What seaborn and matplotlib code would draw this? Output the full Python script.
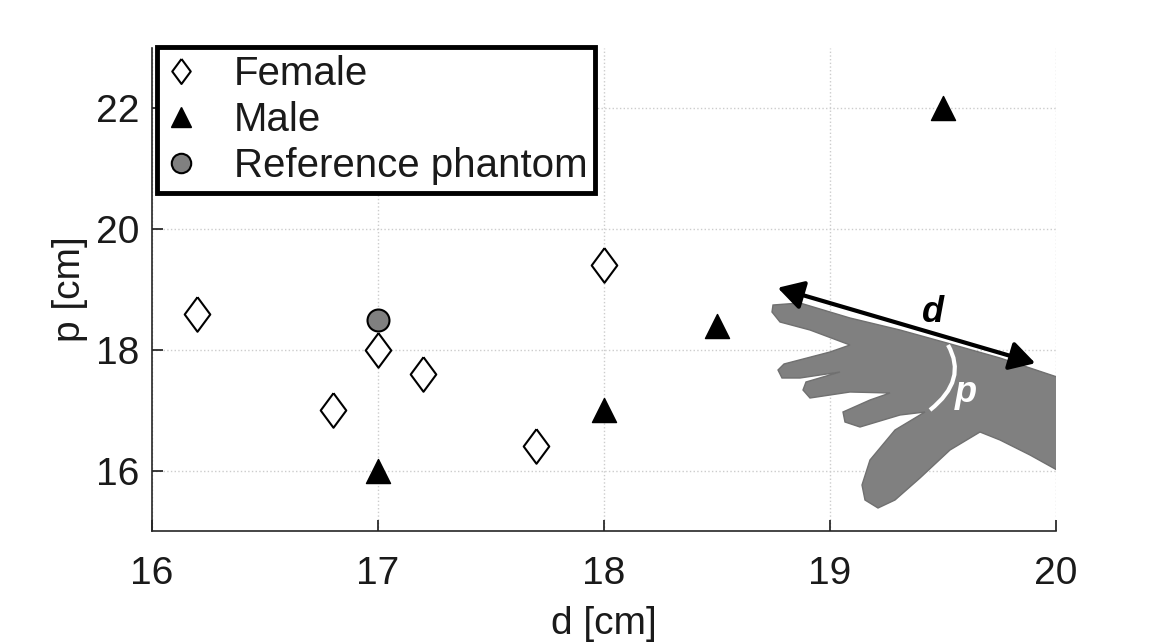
import matplotlib
matplotlib.use("Agg")
import matplotlib.pyplot as plt
import seaborn as sns
import pandas as pd
from matplotlib.patches import Polygon, FancyArrowPatch, PathPatch
from matplotlib.path import Path
from matplotlib.lines import Line2D

female_d = [16.2, 16.8, 17.0, 17.2, 17.7, 18.0]
female_p = [18.6, 17.0, 18.0, 17.6, 16.4, 19.4]
male_d = [17.0, 18.0, 18.5, 19.5]
male_p = [16.0, 17.0, 18.4, 22.0]
ref_d = [17.0]
ref_p = [18.5]
x_ticks = [16, 17, 18, 19, 20]
y_ticks = [16, 18, 20, 22]

sns.set_theme(style="white")
plt.rcParams['font.family'] = ['Liberation Sans', 'DejaVu Sans']

fig = plt.figure(figsize=(11.66, 6.44), dpi=100)
ax = fig.add_axes([152/1166, 1-531/644, 904/1166, 483/644])

def px(x, y):
    return ((x-152)/904, (531-y)/483)

# hand illustration (background)
hand_px = [(773,305),(800,303),(850,318),(900,330),(947,343),(1000,358),(1057,377),
           (1057,470),(1030,455),(1000,440),(980,432),(950,450),(920,478),(895,500),
           (878,508),(865,500),(862,485),(870,460),(895,430),(925,412),(900,415),
           (860,427),(845,422),(843,412),(870,400),(890,393),(850,392),(810,398),
           (803,390),(806,382),(840,372),(800,378),(782,378),(778,370),(784,364),
           (830,352),(850,345),(810,330),(780,322),(772,312)]
hand = Polygon([px(*p) for p in hand_px], closed=True, transform=ax.transAxes,
               facecolor='#808080', edgecolor='#707070', lw=1, zorder=1.5)
ax.add_patch(hand)
arc = Path([px(948,345), px(968,380), px(930,410)], [Path.MOVETO, Path.CURVE3, Path.CURVE3])
ax.add_patch(PathPatch(arc, transform=ax.transAxes, facecolor='none', edgecolor='white',
                       lw=3, zorder=1.6))
arrow = FancyArrowPatch(px(775,287), px(1038,364), transform=ax.transAxes,
                        arrowstyle='<|-|>,head_length=0.7,head_width=0.4',
                        mutation_scale=22, color='black', lw=3, zorder=1.7)
ax.add_patch(arrow)
ax.text(*px(933,312), 'd', transform=ax.transAxes, fontsize=26, fontweight='bold',
        fontstyle='italic', ha='center', va='center', color='black', zorder=1.8,
        family=['Liberation Sans'])
ax.text(*px(966,392), 'p', transform=ax.transAxes, fontsize=26, fontweight='bold',
        fontstyle='italic', ha='center', va='center', color='white', zorder=1.8,
        family=['Liberation Sans'])

diamond = [(0, 1), (0.74, 0), (0, -1), (-0.74, 0), (0, 1)]

df_f = pd.DataFrame({'d': female_d, 'p': female_p})
df_m = pd.DataFrame({'d': male_d, 'p': male_p})
df_r = pd.DataFrame({'d': ref_d, 'p': ref_p})

sns.scatterplot(data=df_f, x='d', y='p', marker=diamond, s=620, facecolor='white',
                edgecolor='black', linewidth=1.5, ax=ax, zorder=3)
sns.scatterplot(data=df_m, x='d', y='p', marker='^', s=300, facecolor='black',
                edgecolor='black', linewidth=1, ax=ax, zorder=3)
sns.scatterplot(data=df_r, x='d', y='p', marker='o', s=250, facecolor='#808080',
                edgecolor='black', linewidth=1.5, ax=ax, zorder=3)

ax.set_xlim(16, 20)
ax.set_ylim(15, 23)
ax.set_xticks(x_ticks)
ax.set_yticks(y_ticks)
ax.set_xticklabels([str(t) for t in x_ticks])
ax.set_yticklabels([str(t) for t in y_ticks])
ax.grid(True, color='#cccccc', linestyle=':', linewidth=1)
ax.set_axisbelow(True)
for s in ['top', 'right']:
    ax.spines[s].set_visible(False)
for s in ['left', 'bottom']:
    ax.spines[s].set_color('#262626')
    ax.spines[s].set_linewidth(1.2)
ax.tick_params(direction='in', length=8, width=1.2, labelsize=28, colors='#1a1a1a',
               left=True, bottom=True)
ax.tick_params(axis='x', pad=18)
ax.tick_params(axis='y', pad=9)
ax.set_xlabel('d [cm]', fontsize=28, color='#1a1a1a', labelpad=10)
ax.set_ylabel('p [cm]', fontsize=28, color='#1a1a1a', labelpad=6)

handles = [
    Line2D([], [], marker=diamond, ls='none', markersize=18, markerfacecolor='white',
           markeredgecolor='black', markeredgewidth=1.5),
    Line2D([], [], marker='^', ls='none', markersize=15, markerfacecolor='black',
           markeredgecolor='black'),
    Line2D([], [], marker='o', ls='none', markersize=14, markerfacecolor='#808080',
           markeredgecolor='black', markeredgewidth=1.5),
]
leg = ax.legend(handles, ['Female', 'Male', 'Reference phantom'], loc='upper left',
                bbox_to_anchor=(5/904, 1.003), fontsize=29, frameon=True, fancybox=False,
                framealpha=1, edgecolor='black', borderpad=0.2, labelspacing=0.2,
                handletextpad=0.9, borderaxespad=0, handlelength=0.8)
leg.get_frame().set_linewidth(3.5)
for t in leg.get_texts():
    t.set_color('#1a1a1a')

fig.savefig('out.png', dpi=100)
